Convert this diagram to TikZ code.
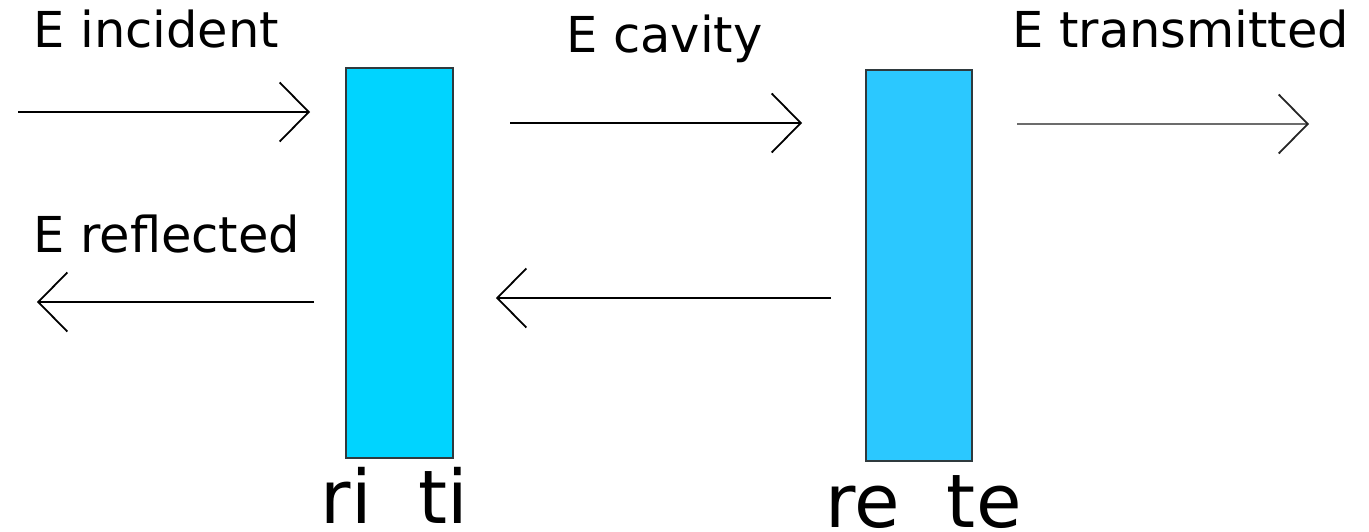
\documentclass[tikz,border=0pt]{standalone}
\usepackage{fontspec}
\setmainfont{DejaVu Sans}
\usetikzlibrary{arrows.meta}
\definecolor{mirA}{HTML}{00D4FF}
\definecolor{mirB}{HTML}{2BC8FF}
\definecolor{edge}{HTML}{2F3A3E}
\tikzset{
  lbl/.style={anchor=base west, inner sep=0pt, font=\fontsize{49.5}{52}\selectfont},
  big/.style={anchor=base west, inner sep=0pt, font=\fontsize{74}{78}\selectfont},
  mirror/.style={draw=edge, line width=1.6pt},
  ray/.style={line width=1.4pt, -{Straight Barb[length=29pt,width=59pt,line width=1.8pt]}},
}
\begin{document}
\begin{tikzpicture}[x=1pt,y=-1pt]
\useasboundingbox (0,0) rectangle (1369,532);
% mirrors
\filldraw[mirror, fill=mirA] (346,68) rectangle (453,458);
\filldraw[mirror, fill=mirB] (866,70) rectangle (972,461);
% labels
\node[lbl] (inc) at (33.1,48) {E incident};
\node[lbl] (cav) at (566.1,53) {E cavity};
\node[lbl] (tra) at (1012.1,48) {E transmitted};
\node[lbl] (ref) at (33.1,252) {E reflected};
\node[big] (ri) at (320.5,523) {ri\ \ ti};
\node[big] (re) at (825.5,527) {re\ \ te};
% ray end points
\coordinate (a1) at (18,112);   \coordinate (b1) at (310,112);
\coordinate (a2) at (510,123);  \coordinate (b2) at (802,123);
\coordinate (a3) at (1017,124); \coordinate (b3) at (1309,124);
\coordinate (a4) at (314,302);  \coordinate (b4) at (37,302);
\coordinate (a5) at (831,298);  \coordinate (b5) at (496,298);
\draw[ray] (a1) -- (b1);
\draw[ray] (a2) -- (b2);
\draw[ray, draw=gray!85!black, -{Straight Barb[length=29pt,width=59pt,line width=1.8pt,color=black!85]}] (a3) -- (b3);
\draw[ray] (a4) -- (b4);
\draw[ray] (a5) -- (b5);
\end{tikzpicture}
\end{document}
